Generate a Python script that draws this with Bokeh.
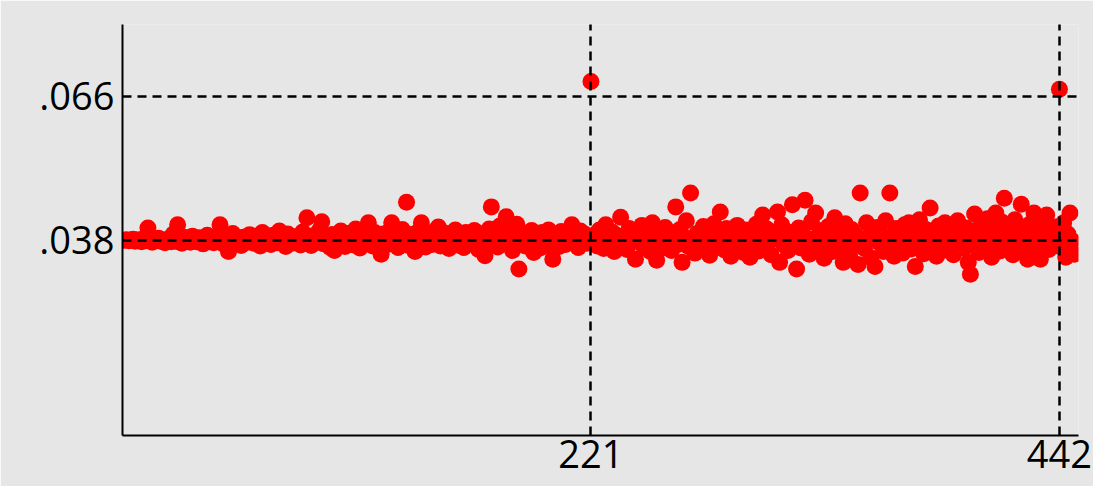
from bokeh.plotting import figure
from bokeh.models import Range1d, FixedTicker, CustomJSTickFormatter
from bokeh.embed import file_html
from bokeh.resources import INLINE

# ---- data ----
y_values = [
    0.0380, 0.0381, 0.0379, 0.0380, 0.0382, 0.0378, 0.0380, 0.0381, 0.0377, 0.0383,
    0.0379, 0.0404, 0.0380, 0.0376, 0.0382, 0.0379, 0.0384, 0.0378, 0.0381, 0.0375,
    0.0380, 0.0383, 0.0377, 0.0392, 0.0378, 0.0410, 0.0382, 0.0374, 0.0386, 0.0379,
    0.0381, 0.0376, 0.0388, 0.0380, 0.0377, 0.0385, 0.0379, 0.0373, 0.0382, 0.0390,
    0.0378, 0.0381, 0.0375, 0.0387, 0.0380, 0.0410, 0.0383, 0.0372, 0.0389, 0.0358,
    0.0381, 0.0393, 0.0377, 0.0384, 0.0379, 0.0370, 0.0386, 0.0381, 0.0376, 0.0391,
    0.0379, 0.0374, 0.0388, 0.0382, 0.0369, 0.0395, 0.0380, 0.0377, 0.0386, 0.0372,
    0.0390, 0.0381, 0.0375, 0.0398, 0.0378, 0.0384, 0.0368, 0.0392, 0.0380, 0.0374,
    0.0387, 0.0379, 0.0383, 0.0371, 0.0396, 0.0378, 0.0424, 0.0385, 0.0370, 0.0389,
    0.0381, 0.0376, 0.0400, 0.0416, 0.0373, 0.0384, 0.0379, 0.0366, 0.0391, 0.0360,
    0.0382, 0.0375, 0.0398, 0.0380, 0.0368, 0.0393, 0.0377, 0.0386, 0.0371, 0.0402,
    0.0379, 0.0365, 0.0390, 0.0383, 0.0374, 0.0414, 0.0381, 0.0369, 0.0395, 0.0377,
    0.0386, 0.0353, 0.0392, 0.0380, 0.0372, 0.0398, 0.0414, 0.0375, 0.0388, 0.0366,
    0.0383, 0.0401, 0.0378, 0.0454, 0.0370, 0.0391, 0.0380, 0.0358, 0.0395, 0.0376,
    0.0414, 0.0384, 0.0367, 0.0390, 0.0379, 0.0372, 0.0397, 0.0382, 0.0406, 0.0369,
    0.0388, 0.0375, 0.0393, 0.0364, 0.0385, 0.0378, 0.0400, 0.0371, 0.0389, 0.0381,
    0.0366, 0.0395, 0.0377, 0.0387, 0.0373, 0.0399, 0.0380, 0.0362, 0.0392, 0.0376,
    0.0350, 0.0385, 0.0402, 0.0445, 0.0370, 0.0390, 0.0367, 0.0408, 0.0379, 0.0384,
    0.0426, 0.0372, 0.0396, 0.0360, 0.0388, 0.0411, 0.0324, 0.0381, 0.0393, 0.0369,
    0.0386, 0.0374, 0.0399, 0.0356, 0.0390, 0.0378, 0.0365, 0.0395, 0.0383, 0.0371,
    0.0400, 0.0376, 0.0343, 0.0389, 0.0380, 0.0368, 0.0397, 0.0385, 0.0372, 0.0393,
    0.0379, 0.0410, 0.0375, 0.0388, 0.0366, 0.0398, 0.0382, 0.0392, 0.0374, 0.0386,
    0.0689,
    0.0378, 0.0391, 0.0369, 0.0400, 0.0383, 0.0364, 0.0410, 0.0387, 0.0373, 0.0396,
    0.0358, 0.0390, 0.0378, 0.0425, 0.0371, 0.0385, 0.0362, 0.0403, 0.0380,
    0.0394, 0.0343, 0.0388, 0.0376, 0.0409, 0.0367, 0.0399, 0.0381, 0.0358, 0.0414,
    0.0373, 0.0341, 0.0392, 0.0384, 0.0365, 0.0405, 0.0377, 0.0396, 0.0360, 0.0389,
    0.0445, 0.0372, 0.0401, 0.0337, 0.0386, 0.0418, 0.0368, 0.0472, 0.0379, 0.0355,
    0.0393, 0.0382, 0.0364, 0.0407, 0.0375, 0.0398, 0.0351, 0.0388, 0.0412, 0.0370,
    0.0395, 0.0435, 0.0378, 0.0361, 0.0403, 0.0384, 0.0349, 0.0392, 0.0372, 0.0409,
    0.0366, 0.0387, 0.0356, 0.0400, 0.0380, 0.0347, 0.0396, 0.0374, 0.0411, 0.0359,
    0.0389, 0.0429, 0.0367, 0.0402, 0.0378, 0.0352, 0.0394, 0.0383, 0.0435, 0.0337,
    0.0410, 0.0371, 0.0398, 0.0360, 0.0386, 0.0449, 0.0375, 0.0324, 0.0404, 0.0365,
    0.0392, 0.0458, 0.0381, 0.0353, 0.0416, 0.0370, 0.0433, 0.0388, 0.0362, 0.0399,
    0.0345, 0.0385, 0.0407, 0.0374, 0.0358, 0.0424, 0.0378, 0.0396, 0.0366, 0.0337,
    0.0412, 0.0383, 0.0351, 0.0401, 0.0371, 0.0390, 0.0333, 0.0472, 0.0379, 0.0364,
    0.0414, 0.0387, 0.0346, 0.0398, 0.0329, 0.0405, 0.0375, 0.0391, 0.0358, 0.0418,
    0.0368, 0.0472, 0.0384, 0.0349, 0.0403, 0.0377, 0.0395, 0.0355, 0.0410, 0.0382,
    0.0414, 0.0363, 0.0398, 0.0329, 0.0389, 0.0420, 0.0372, 0.0354, 0.0401, 0.0386,
    0.0443, 0.0366, 0.0392, 0.0349, 0.0408, 0.0378, 0.0360, 0.0414, 0.0385, 0.0371,
    0.0399, 0.0352, 0.0362, 0.0418, 0.0380, 0.0395, 0.0365, 0.0404, 0.0337, 0.0314,
    0.0388, 0.0431, 0.0374, 0.0356, 0.0410, 0.0393, 0.0368, 0.0422, 0.0381, 0.0347,
    0.0402, 0.0433, 0.0376, 0.0359, 0.0415, 0.0462, 0.0387, 0.0369, 0.0398, 0.0352,
    0.0420, 0.0380, 0.0365, 0.0450, 0.0394, 0.0373, 0.0343, 0.0411, 0.0386, 0.0433,
    0.0357, 0.0400, 0.0343, 0.0377, 0.0418, 0.0429, 0.0362, 0.0395, 0.0370, 0.0406,
    0.0383, 0.0674,
    0.0366, 0.0414, 0.0347, 0.0392, 0.0433, 0.0379, 0.0353,
]
x_values = list(range(1, len(y_values) + 1))

x_ticks = [221, 442]
y_ticks = [0.038, 0.066]

BG = "#e6e6e6"

p = figure(
    width=1093, height=486,
    x_range=Range1d(0, 451), y_range=Range1d(0, 0.08),
    output_backend="svg", toolbar_location=None,
    background_fill_color=BG, border_fill_color=BG,
    min_border_left=122, min_border_right=15,
    min_border_top=24, min_border_bottom=51,
)
p.outline_line_color = None

p.scatter(x_values, y_values, size=17, color="#ff0000", line_color=None)

for ax in (p.xaxis[0], p.yaxis[0]):
    ax.axis_line_color = "black"
    ax.axis_line_width = 2
    ax.major_tick_in = 0
    ax.major_tick_out = 0
    ax.minor_tick_in = 0
    ax.minor_tick_out = 0
    ax.major_label_text_font = "Open Sans"
    ax.major_label_text_font_size = "38px"
    ax.major_label_text_color = "black"

p.xaxis[0].ticker = FixedTicker(ticks=x_ticks)
p.yaxis[0].ticker = FixedTicker(ticks=y_ticks)
p.xaxis[0].major_label_standoff = 4
p.yaxis[0].major_label_standoff = 8
p.yaxis[0].formatter = CustomJSTickFormatter(
    code="return tick.toFixed(3).replace(/^0/, '');")

for g in (p.xgrid[0], p.ygrid[0]):
    g.grid_line_color = "black"
    g.grid_line_width = 2.5
    g.grid_line_dash = "9 6"
    g.level = "overlay"

open("out.html", "w").write(file_html(p, INLINE))
